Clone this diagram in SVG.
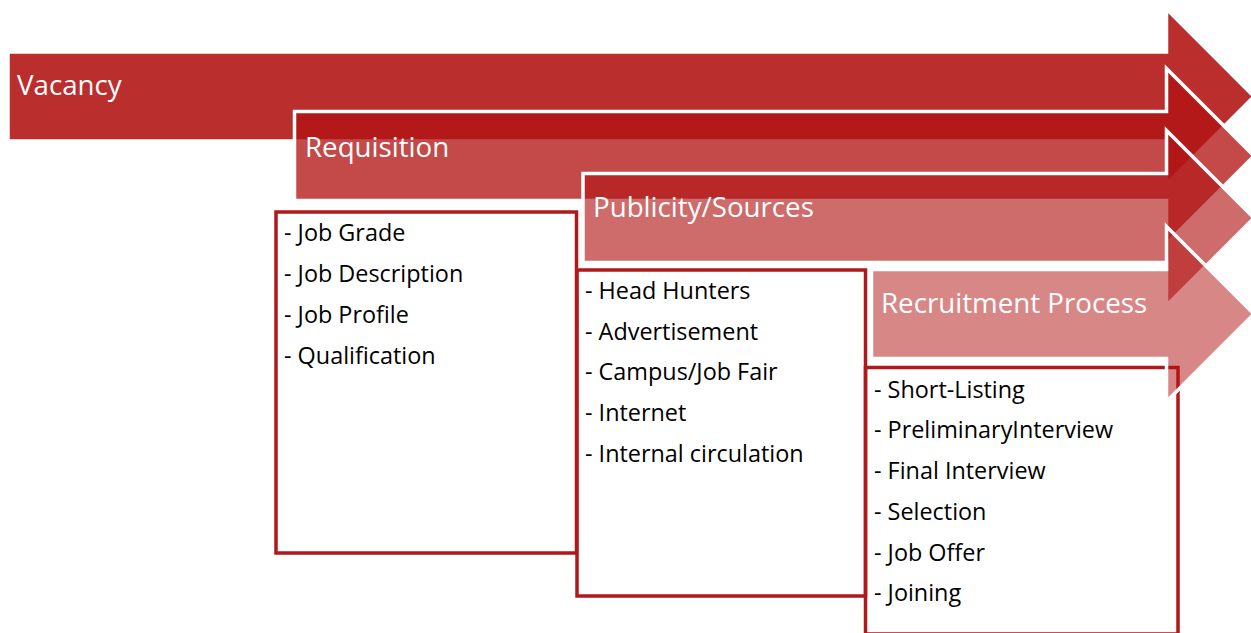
<svg xmlns="http://www.w3.org/2000/svg" width="1251" height="633" viewBox="0 0 1251 633">
<style>
.box{fill:none;stroke:#B0191B;stroke-width:3.5;stroke-linejoin:miter}
.arrow{fill:#B21414;stroke:#FFFFFF;stroke-width:3.5;stroke-linejoin:miter}
.title{font-family:"Open Sans","Noto Sans",sans-serif;font-size:27.7px;fill:#FFFFFF}
.item{font-family:"Open Sans","Noto Sans",sans-serif;font-size:23.4px;fill:#000000}
</style>
<rect width="1251" height="633" fill="#FFFFFF"/>
<g id="box-requisition">
<rect class="box" x="276" y="212" width="300.5" height="341"/>
<text class="item" x="284" y="241">- Job Grade</text>
<text class="item" x="284" y="282">- Job Description</text>
<text class="item" x="284" y="323">- Job Profile</text>
<text class="item" x="284" y="364">- Qualification</text>
</g>
<g id="box-publicity">
<rect class="box" x="577" y="270" width="288.5" height="326"/>
<text class="item" x="585" y="299">- Head Hunters</text>
<text class="item" x="585" y="340">- Advertisement</text>
<text class="item" x="585" y="380">- Campus/Job Fair</text>
<text class="item" x="585" y="421">- Internet</text>
<text class="item" x="585" y="462">- Internal circulation</text>
</g>
<g id="box-recruitment">
<rect class="box" x="865.5" y="367.5" width="312.5" height="266.5"/>
<text class="item" x="874" y="398">- Short-Listing</text>
<text class="item" x="874" y="438">- PreliminaryInterview</text>
<text class="item" x="874" y="479">- Final Interview</text>
<text class="item" x="874" y="520">- Selection</text>
<text class="item" x="874" y="561">- Job Offer</text>
<text class="item" x="874" y="601">- Joining</text>
</g>
<g id="arrow-vacancy">
<path class="arrow" fill-opacity="0.89" stroke="none" d="M8,52 H1166.5 V9 L1254,96.5 L1166.5,184 V141 H8 Z"/>
<text class="title" x="17" y="95">Vacancy</text>
</g>
<g id="arrow-requisition">
<path class="arrow" fill-opacity="0.77" d="M294.5,111.5 H1166.5 V68.5 L1254,156 L1166.5,243.5 V200.5 H294.5 Z"/>
<text class="title" x="305" y="157">Requisition</text>
</g>
<g id="arrow-publicity">
<path class="arrow" fill-opacity="0.63" d="M583,173.5 H1166.5 V130.5 L1254,218 L1166.5,305.5 V262.5 H583 Z"/>
<text class="title" x="593" y="217">Publicity/Sources</text>
</g>
<g id="arrow-recruitment">
<path class="arrow" fill-opacity="0.51" d="M871.5,269.5 H1166.5 V226.5 L1254,314 L1166.5,401.5 V358.5 H871.5 Z"/>
<text class="title" x="881" y="313">Recruitment Process</text>
</g>
<g id="connectors"/>
</svg>
